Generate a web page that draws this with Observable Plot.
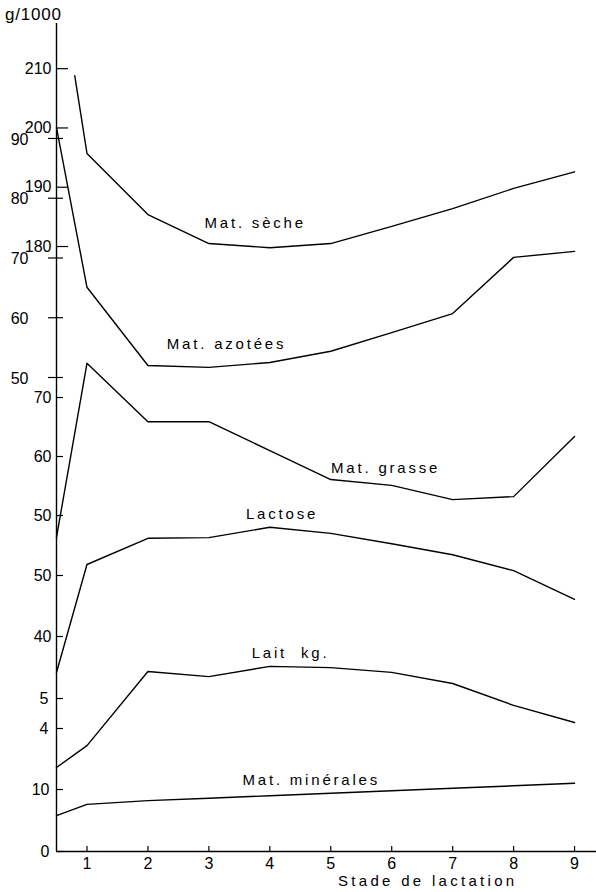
<!DOCTYPE html>
<html><head><meta charset="utf-8">
<script src="https://cdn.jsdelivr.net/npm/d3@7"></script>
<script src="https://cdn.jsdelivr.net/npm/@observablehq/plot@0.6"></script>
<style>
body{margin:0;background:#fff;}
#wrap{position:relative;width:596px;height:892px;font-family:"Liberation Sans",Arial,sans-serif;color:#000;}
#wrap svg{position:absolute;left:0;top:0;z-index:0;}
#unit{position:absolute;left:5px;top:6px;font-size:17px;letter-spacing:0.8px;line-height:18px;z-index:2;}
#xlab{position:absolute;left:338px;top:873px;font-size:15px;letter-spacing:3.3px;line-height:15px;z-index:2;}
</style></head><body>
<div id="wrap"><div id="unit">g/1000</div><div id="xlab">Stade de lactation</div></div>
<script>
// ---- data ----
const stades      = [0.5, 1, 2, 3, 4, 5, 6, 7, 8, 9];
const stadesSeche = [0.8, 1, 2, 3, 4, 5, 6, 7, 8, 9];
const matSeche     = [208.8, 195.7, 185.4, 180.5, 179.8, 180.5, 183.4, 186.4, 189.8, 192.6];
const matAzotees   = [91.8, 65.1, 52.0, 51.7, 52.5, 54.4, 57.5, 60.7, 70.1, 71.1];
const matGrasse    = [46.3, 75.8, 65.9, 65.9, 61.0, 56.1, 55.1, 52.7, 53.2, 63.4];
const lactose      = [34.1, 51.8, 56.1, 56.2, 57.9, 56.9, 55.2, 53.4, 50.8, 46.1];
const laitKg       = [2.70, 3.43, 5.9, 5.73, 6.07, 6.03, 5.87, 5.5, 4.77, 4.2];
const matMinerales = [5.8, 7.6, 8.2, 8.6, 9.0, 9.4, 9.8, 10.2, 10.6, 11.0];

const xTicks = [1, 2, 3, 4, 5, 6, 7, 8, 9];
const ticksSeche = [180, 190, 200, 210];
const ticksAzotees = [50, 60, 70, 80, 90];
const ticksGrasse = [50, 60, 70];
const ticksLactose = [40, 50];
const ticksLait = [4, 5];
const ticksMinerales = [0, 10];

const nomSeche = "Mat. sèche", nomAzotees = "Mat. azotées", nomGrasse = "Mat. grasse",
      nomLactose = "Lactose", nomLait = "Lait  kg.", nomMinerales = "Mat. minérales";

// ---- layout of the stacked sub-axes on one shared vertical scale ----
const X0 = 0.5;
const series = [
  {name: nomSeche, x: stadesSeche, v: matSeche, ticks: ticksSeche, ref: 180, at: 100.83, k: 0.988,
   tin: [0, -12], ldx: -5, ldy: 0, lab: [3.76, 183.9]},
  {name: nomAzotees, x: stades, v: matAzotees, ticks: ticksAzotees, ref: 50, at: 79.0, k: 0.996,
   tin: [-8, -7], ldx: -28, ldy: 1, lab: [3.29, 55.5]},
  {name: nomGrasse, x: stades, v: matGrasse, ticks: ticksGrasse, ref: 50, at: 56.0, k: 0.983,
   tin: [0, -7], ldx: -5, ldy: 0, lab: [5.9, 58.0]},
  {name: nomLactose, x: stades, v: lactose, ticks: ticksLactose, ref: 40, at: 35.83, k: 1.017,
   tin: [0, -7], ldx: -5, ldy: 0, lab: [4.2, 60.0]},
  {name: nomLait, x: stades, v: laitKg, ticks: ticksLait, ref: 4, at: 20.5, k: 5,
   tin: [0, -7], ldx: -8, ldy: 0, lab: [4.34, 6.5]},
  {name: nomMinerales, x: stades, v: matMinerales, ticks: ticksMinerales, ref: 0, at: 0, k: 1.033,
   tin: [0, -7], ldx: -7, ldy: 0, lab: [4.68, 11.45]}
];
const pos = (s, v) => s.at + (v - s.ref) * s.k;

const lineRows = series.flatMap(s => s.v.map((v, i) => ({serie: s.name, stade: s.x[i], y: pos(s, v)})));
const labelRows = series.map(s => ({text: s.name, stade: s.lab[0], y: pos(s, s.lab[1])}));

const marks = [
  Plot.ruleX([X0], {stroke: "#000", strokeWidth: 1.4}),
  Plot.ruleY([0], {stroke: "#000", strokeWidth: 1.4}),
  Plot.ruleX(xTicks, {x: d => d, y1: () => 0, y2: () => 0, insetTop: -5, stroke: "#000", strokeWidth: 1.2}),
  Plot.text(xTicks, {x: d => d, y: () => 0, text: d => String(d), dy: 12, fontSize: 16, fill: "#000"}),
  Plot.line(lineRows, {x: "stade", y: "y", z: "serie", stroke: "#000", strokeWidth: 1.4, curve: "linear"}),
  Plot.text(labelRows, {x: "stade", y: "y", text: "text", fontSize: 15, fill: "#000"})
];
for (const s of series) {
  const rows = s.ticks.map(t => ({y: pos(s, t), label: String(t)}));
  marks.push(Plot.ruleY(rows, {y: "y", x1: () => X0, x2: () => X0, insetLeft: s.tin[0], insetRight: s.tin[1], stroke: "#000", strokeWidth: 1.2}));
  marks.push(Plot.text(rows, {y: "y", x: () => X0, text: "label", textAnchor: "end", dx: s.ldx, dy: s.ldy, fontSize: 16, fill: "#000"}));
}

const chart = Plot.plot({
  width: 596,
  height: 892,
  marginTop: 23,
  marginBottom: 41,
  marginLeft: 56,
  marginRight: 0,
  x: {domain: [X0, 9.36], axis: null},
  y: {domain: [0, 138], axis: null},
  style: {fontFamily: "'Liberation Sans', Arial, sans-serif", background: "transparent", color: "#000"},
  marks
});
const noms = series.map(s => s.name);
d3.select(chart).selectAll("text")
  .filter(function () { return noms.includes(this.textContent); })
  .attr("letter-spacing", "2.8px")
  .attr("xml:space", "preserve")
  .style("white-space", "pre");
const wrap = document.getElementById("wrap");
wrap.insertBefore(chart, wrap.firstChild);
</script>
</body></html>
